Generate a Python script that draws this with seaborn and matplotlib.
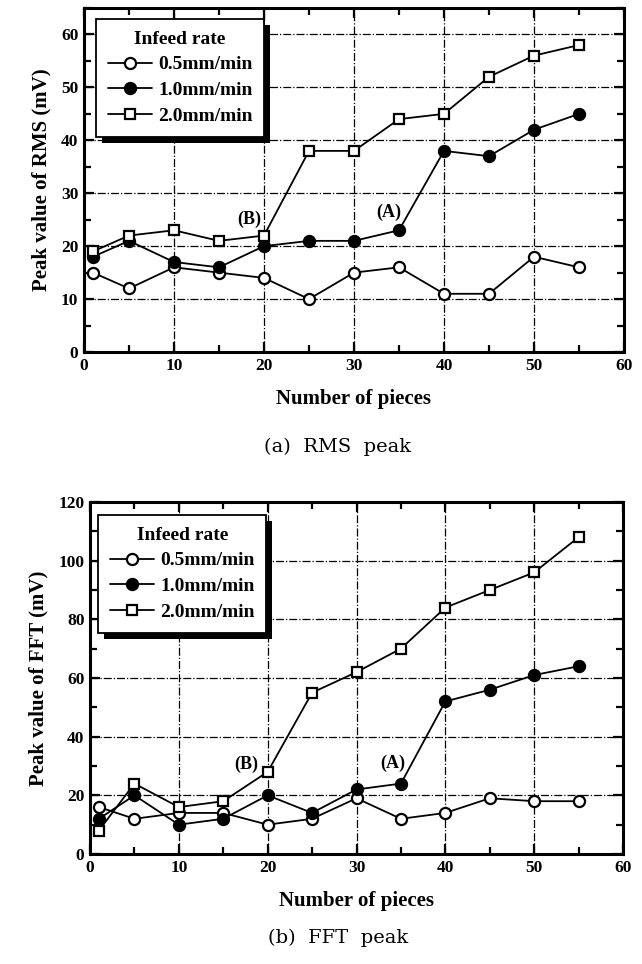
import matplotlib
matplotlib.use("Agg")
import matplotlib.pyplot as plt
import matplotlib.transforms as mtransforms
from matplotlib.patches import Rectangle
from matplotlib.lines import Line2D
from matplotlib.ticker import MultipleLocator
import numpy as np
import pandas as pd
import seaborn as sns

# ---------------- data ----------------
pieces = [1, 5, 10, 15, 20, 25, 30, 35, 40, 45, 50, 55]
rates = ["0.5mm/min", "1.0mm/min", "2.0mm/min"]

rms_05 = [15, 12, 16, 15, 14, 10, 15, 16, 11, 11, 18, 16]
rms_10 = [18, 21, 17, 16, 20, 21, 21, 23, 38, 37, 42, 45]
rms_20 = [19, 22, 23, 21, 22, 38, 38, 44, 45, 52, 56, 58]

fft_05 = [16, 12, 14, 14, 10, 12, 19, 12, 14, 19, 18, 18]
fft_10 = [12, 20, 10, 12, 20, 14, 22, 24, 52, 56, 61, 64]
fft_20 = [8, 24, 16, 18, 28, 55, 62, 70, 84, 90, 96, 108]

x_ticks = [0, 10, 20, 30, 40, 50, 60]
rms_yticks = [0, 10, 20, 30, 40, 50, 60]
fft_yticks = [0, 20, 40, 60, 80, 100, 120]

# ---------------- style ----------------
sns.set_theme(style="ticks")
plt.rcParams["font.family"] = ["Liberation Serif", "DejaVu Serif"]
plt.rcParams["font.weight"] = "bold"
plt.rcParams["axes.labelweight"] = "bold"
for k in ["text.color", "axes.labelcolor", "xtick.color", "ytick.color",
          "axes.edgecolor"]:
    plt.rcParams[k] = "black"

marker_styles = {
    "0.5mm/min": dict(marker="o", mfc="white"),
    "1.0mm/min": dict(marker="o", mfc="black"),
    "2.0mm/min": dict(marker="s", mfc="white"),
}

fig = plt.figure(figsize=(6.42, 9.64), dpi=100)
ax1 = fig.add_axes([84 / 642, 1 - 352 / 964, 540 / 642, 344 / 964])
ax2 = fig.add_axes([90 / 642, 1 - 854 / 964, 533 / 642, 352 / 964])


def draw_panel(ax, series, ylim, yticks, yminor, ylabel, ann, leg_anchor):
    df = pd.DataFrame({
        "pieces": pieces * 3,
        "value": series[0] + series[1] + series[2],
        "rate": sum([[r] * len(pieces) for r in rates], []),
    })
    for r in rates:
        sub = df[df["rate"] == r]
        st = marker_styles[r]
        sns.lineplot(data=sub, x="pieces", y="value", ax=ax, color="black",
                     linewidth=1.3, marker=st["marker"],
                     markerfacecolor=st["mfc"], markeredgecolor="black",
                     markeredgewidth=1.6,
                     markersize=8 if st["marker"] == "o" else 7.5,
                     zorder=3)
    ax.set_xlim(0, 60)
    ax.set_ylim(*ylim)
    ax.set_xticks(x_ticks)
    ax.set_yticks(yticks)
    ax.xaxis.set_minor_locator(MultipleLocator(5))
    ax.yaxis.set_minor_locator(MultipleLocator(yminor))
    ax.tick_params(axis="both", which="both", direction="in", top=True,
                   right=True, width=1.6, labelsize=12.5, colors="black")
    ax.tick_params(which="major", length=7, pad=4)
    ax.tick_params(which="minor", length=5)
    for t in ax.get_xticklabels() + ax.get_yticklabels():
        t.set_fontweight("bold")
    for s in ax.spines.values():
        s.set_linewidth(2.2)
        s.set_color("black")
    ax.grid(True, which="major", color="black", linestyle="-.", linewidth=0.9)
    ax.set_axisbelow(True)
    ax.set_xlabel("Number of pieces", fontsize=15, fontweight="bold",
                  labelpad=11, color="black")
    ax.set_ylabel(ylabel, fontsize=15, fontweight="bold", labelpad=7,
                  color="black")
    for txt, (xx, yy) in ann.items():
        ax.text(xx, yy, txt, fontsize=13, fontweight="bold", ha="center",
                va="center", zorder=4, color="black")

    handles = [Line2D([], [], color="black", linewidth=1.3,
                      marker=marker_styles[r]["marker"],
                      markerfacecolor=marker_styles[r]["mfc"],
                      markeredgecolor="black", markeredgewidth=1.6,
                      markersize=8 if marker_styles[r]["marker"] == "o" else 7.5)
               for r in rates]
    leg = ax.legend(handles, rates, title="Infeed rate", loc="upper left",
                    bbox_to_anchor=leg_anchor, borderaxespad=0,
                    frameon=True, fancybox=False, edgecolor="black",
                    framealpha=1, prop=dict(weight="bold", size=14),
                    title_fontproperties=dict(weight="bold", size=14),
                    handlelength=2.3, handletextpad=0.3, labelspacing=0.42,
                    borderpad=0.6, labelcolor="black")
    leg.get_title().set_color("black")
    leg.get_frame().set_linewidth(1.3)
    leg.set_zorder(6)
    return leg


leg1 = draw_panel(ax1, [rms_05, rms_10, rms_20], (0, 65), rms_yticks, 5,
                  "Peak value of RMS (mV)",
                  {"(B)": (18.4, 25.0), "(A)": (33.9, 26.4)}, (0.022, 0.968))
leg2 = draw_panel(ax2, [fft_05, fft_10, fft_20], (0, 120), fft_yticks, 10,
                  "Peak value of FFT (mV)",
                  {"(B)": (17.6, 30.5), "(A)": (34.1, 31.0)}, (0.015, 0.963))

fig.text(338 / 642, 1 - 447 / 964, "(a)  RMS  peak", fontsize=14,
         fontweight="normal", family=["DejaVu Serif"], ha="center",
         va="center", color="black")
fig.text(338 / 642, 1 - 938 / 964, "(b)  FFT  peak", fontsize=14,
         fontweight="normal", family=["DejaVu Serif"], ha="center",
         va="center", color="black")

# legend drop shadows
fig.canvas.draw()
for ax, leg in [(ax1, leg1), (ax2, leg2)]:
    bb = leg.get_window_extent()
    off = 6
    rect = Rectangle((bb.x0 + off, bb.y0 - off), bb.width, bb.height,
                     transform=mtransforms.IdentityTransform(),
                     facecolor="black", edgecolor="none", zorder=5.5)
    rect.set_clip_on(False)
    ax.add_artist(rect)

fig.savefig("out.png", dpi=100)
